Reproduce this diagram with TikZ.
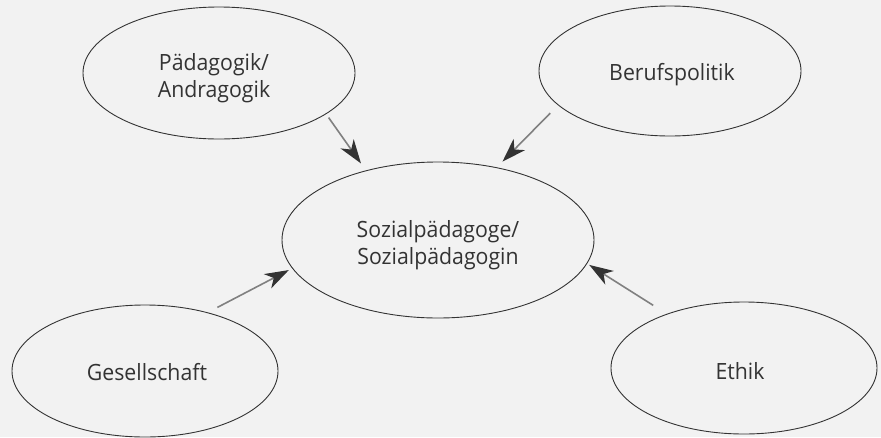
\documentclass[tikz,border=0pt]{standalone}
\usepackage{fontspec}
\setmainfont{Open Sans}[FakeStretch=0.95]
\usetikzlibrary{shapes.geometric,arrows.meta}
\begin{document}
\begin{tikzpicture}[x=1pt,y=-1pt,
  bub/.style={ellipse, draw=black!80, line width=0.9pt, inner sep=0pt},
  txt/.style={inner sep=0pt, align=center, text=black!80, font=\fontsize{22.4}{27}\selectfont},
  arr/.style={draw=black!50, line width=1.6pt,
    -{Stealth[length=24pt, width=16pt, inset=7pt, color=black!80]}}]
\fill[black!5] (0,0) rectangle (881,437);
\useasboundingbox (0,0) rectangle (881,437);
\node[bub, minimum width=272pt, minimum height=132pt] (ped) at (219,73) {};
\node[bub, minimum width=262pt, minimum height=130pt] (ber) at (670,71) {};
\node[bub, minimum width=312pt, minimum height=156pt] (soz) at (438,240) {};
\node[bub, minimum width=266pt, minimum height=132pt] (ges) at (145,371) {};
\node[bub, minimum width=266pt, minimum height=132pt] (eth) at (744,368) {};
\node[txt] (pedt) at (214,78) {Pädagogik/\\Andragogik};
\node[txt] (bert) at (672,75) {Berufspolitik};
\node[txt] (sozt) at (438,245) {Sozialpädagoge/\\Sozialpädagogin};
\node[txt] (gest) at (147,372) {Gesellschaft};
\node[txt] (etht) at (740,371) {Ethik};
\draw[arr, shorten <=4.2pt, shorten >=8.5pt] (ped.-21.5) -- (soz.136.1);
\draw[arr, shorten <=11.1pt, shorten >=8pt] (ber.197.85) -- (soz.51.75);
\draw[arr, shorten <=10.75pt, shorten >=3.7pt] (ges.43.1) -- (soz.191.9);
\draw[arr, shorten <=15.9pt, shorten >=2.4pt] (eth.145.3) -- (soz.-9.5);
\end{tikzpicture}
\end{document}
